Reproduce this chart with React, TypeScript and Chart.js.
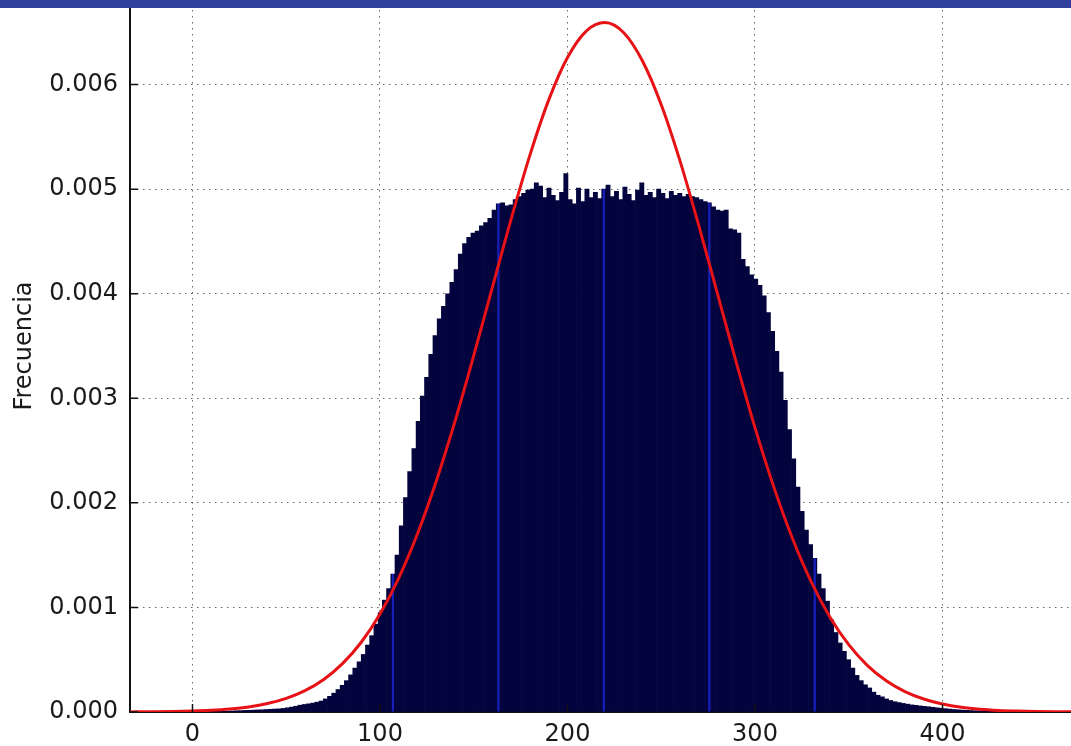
import React, { useEffect, useRef } from "react";
import { Chart, registerables } from "chart.js";

Chart.register(...registerables);

// Histogram bins: start and width of each bin (x units)
const BIN_START = 0;
const BIN_WIDTH = 2.25;

// Histogram heights (frequency density), one per bin
const histValues = [
  0, 0, 0, 0.000001, 0.000002, 0.000003, 0.000004, 0.000006, 0.000008, 0.00001,
  0.000012, 0.000013, 0.000015, 0.000016, 0.000018, 0.00002, 0.000021, 0.000024, 0.000026, 0.000028,
  0.00003, 0.000034, 0.00004, 0.000047, 0.000055, 0.000065, 0.000072, 0.000078, 0.000085, 0.000094,
  0.000105, 0.000125, 0.00015, 0.00018, 0.000215, 0.000255, 0.0003, 0.000355, 0.00042, 0.00048,
  0.00055, 0.00064, 0.00073, 0.00084, 0.00095, 0.00107, 0.00118, 0.00132, 0.0015, 0.00178,
  0.00205, 0.0023, 0.00252, 0.00278, 0.00302, 0.0032, 0.00342, 0.0036, 0.00376, 0.00388,
  0.004, 0.00411, 0.00423, 0.00438, 0.00448, 0.00454, 0.00458, 0.0046, 0.00465, 0.00468,
  0.00472, 0.0048, 0.00486, 0.00487, 0.00484, 0.00485, 0.0049, 0.00493, 0.00496, 0.00499,
  0.005, 0.00506, 0.00503, 0.00492, 0.00501, 0.00494, 0.00489, 0.00497, 0.00515, 0.0049,
  0.00486, 0.00501, 0.00488, 0.005, 0.00492, 0.00497, 0.00491, 0.005, 0.00504, 0.00493,
  0.00498, 0.0049, 0.00502, 0.00495, 0.00489, 0.00499, 0.00506, 0.00494, 0.00497, 0.00492,
  0.005, 0.00496, 0.00491, 0.00498, 0.00494, 0.00496, 0.00493, 0.00495, 0.00493, 0.00492,
  0.0049, 0.00488, 0.00487, 0.00483, 0.0048, 0.00479, 0.0048, 0.00462, 0.00461, 0.00458,
  0.00433, 0.00426, 0.00418, 0.00414, 0.00408, 0.00398, 0.00382, 0.00364, 0.00345, 0.00325,
  0.00298, 0.0027, 0.00242, 0.00215, 0.00192, 0.00174, 0.0016, 0.00147, 0.00132, 0.00118,
  0.00106, 0.00088, 0.00076, 0.00066, 0.00058, 0.0005, 0.00042, 0.00035, 0.0003, 0.00026,
  0.00023, 0.00019, 0.00016, 0.000145, 0.000125, 0.00011, 0.000098, 0.00009, 0.000082, 0.000075,
  0.000068, 0.000064, 0.000058, 0.000054, 0.00005, 0.000045, 0.00004, 0.000036, 0.000032, 0.000028,
  0.000024, 0.000021, 0.000018, 0.000016, 0.000014, 0.000012, 0.000011, 0.00001, 0.000009, 0.000008,
  0.000007, 0.000006, 0.000005, 0.000004, 0.000003, 0.000003, 0.000002, 0.000002, 0.000001, 0.000001,
];

// Bins that show as brighter blue streaks in the picture
const streakBins = [47, 72, 97, 122, 147];

// Red fitted curve
const curveX = [
  -40, -30, -20, -10, 0, 10, 20, 30, 40, 50, 60, 70, 80, 90, 100, 110, 120, 130, 140, 150,
  160, 170, 180, 190, 200, 210, 220, 230, 240, 250, 260, 270, 280, 290, 300, 310, 320, 330,
  340, 350, 360, 370, 380, 390, 400, 410, 420, 430, 440, 450, 460, 470, 480,
];
const curveY = [
  0.0000007, 0.0000013, 0.0000026, 0.0000049, 0.0000092, 0.0000164, 0.0000287, 0.0000488,
  0.0000809, 0.00013, 0.000204, 0.000311, 0.000462, 0.000667, 0.000937, 0.001281, 0.001704,
  0.002207, 0.00278, 0.003409, 0.004065, 0.004718, 0.005328, 0.005854, 0.006259, 0.006512,
  0.006593, 0.006495, 0.006225, 0.005807, 0.00527, 0.004653, 0.003999, 0.003344, 0.00272,
  0.002153, 0.001659, 0.001244, 0.000907, 0.000644, 0.000444, 0.000299, 0.000195, 0.000124,
  0.000077, 0.000046, 0.000027, 0.0000155, 0.0000086, 0.0000046, 0.0000024, 0.0000012, 0.0000006,
];

const xTickValues = [0, 100, 200, 300, 400, 500];
const yTickValues = [0, 0.001, 0.002, 0.003, 0.004, 0.005, 0.006, 0.007];
const yLabel = "Frecuencia";

const FONT = "'DejaVu Sans', sans-serif";
const TEXT = "#1a1a1a";

const innerTicks = {
  id: "innerTicks",
  afterDatasetsDraw(chart: any) {
    const { ctx, chartArea, scales } = chart;
    ctx.save();
    ctx.strokeStyle = "#111";
    ctx.lineWidth = 1.5;
    ctx.beginPath();
    for (const v of xTickValues) {
      const px = scales.x.getPixelForValue(v);
      if (px < chartArea.left || px > chartArea.right) continue;
      ctx.moveTo(px, chartArea.bottom);
      ctx.lineTo(px, chartArea.bottom - 8);
    }
    for (const v of yTickValues) {
      const py = scales.y.getPixelForValue(v);
      ctx.moveTo(chartArea.left, py);
      ctx.lineTo(chartArea.left + 8, py);
    }
    ctx.stroke();
    ctx.restore();
  },
};

export default function App() {
  const canvasRef = useRef<HTMLCanvasElement | null>(null);

  useEffect(() => {
    if (!canvasRef.current) return;
    const binCenter = (i: number) => BIN_START + BIN_WIDTH * (i + 0.5);
    const chart = new Chart(canvasRef.current, {
      type: "bar",
      data: {
        datasets: [
          {
            type: "line",
            label: "curve",
            data: curveX.map((x, i) => ({ x, y: curveY[i] })),
            borderColor: "rgb(230,18,22)",
            borderWidth: 3,
            pointRadius: 0,
            fill: false,
            cubicInterpolationMode: "monotone",
            order: 1,
          } as any,
          {
            type: "bar",
            label: "streaks",
            data: streakBins.map((i) => ({ x: binCenter(i), y: histValues[i] })),
            backgroundColor: "rgba(25,35,205,0.9)",
            borderWidth: 0,
            barPercentage: 0.5,
            categoryPercentage: 1,
            grouped: false,
            order: 2,
          } as any,
          {
            type: "bar",
            label: "hist",
            data: histValues.map((v, i) => ({ x: binCenter(i), y: v })),
            backgroundColor: "#03033e",
            borderWidth: 0,
            barPercentage: 1,
            categoryPercentage: 1,
            grouped: false,
            order: 3,
          } as any,
        ],
      },
      options: {
        animation: false,
        responsive: false,
        events: [],
        layout: { padding: 0, autoPadding: false },
        plugins: { legend: { display: false }, tooltip: { enabled: false } },
        scales: {
          x: {
            type: "linear",
            min: -33.33,
            max: 500,
            offset: false,
            afterBuildTicks: (s: any) => {
              s.ticks = xTickValues.map((v) => ({ value: v }));
            },
            afterFit: (s: any) => {
              s.height = 34;
              s.paddingLeft = 0;
              s.paddingRight = 0;
            },
            grid: { color: "rgba(0,0,0,0.6)", lineWidth: 1, drawTicks: false, offset: false },
            border: { display: true, color: "#111", width: 2, dash: [1.5, 4.5] },
            ticks: {
              color: TEXT,
              font: { family: FONT, size: 24 },
              padding: 8,
              maxRotation: 0,
              autoSkip: false,
              callback: (v: any) => String(v),
            },
          },
          y: {
            type: "linear",
            min: 0,
            max: 0.007,
            afterBuildTicks: (s: any) => {
              s.ticks = yTickValues.map((v) => ({ value: v }));
            },
            afterFit: (s: any) => {
              s.width = 130;
              s.paddingTop = 0;
              s.paddingBottom = 0;
            },
            grid: { color: "rgba(0,0,0,0.6)", lineWidth: 1, drawTicks: false },
            border: { display: true, color: "#111", width: 2, dash: [1.5, 4.5] },
            ticks: {
              color: TEXT,
              font: { family: FONT, size: 24 },
              padding: 12,
              autoSkip: false,
              callback: (v: any) => Number(v).toFixed(3),
            },
            title: {
              display: true,
              text: yLabel,
              color: TEXT,
              font: { family: FONT, size: 24 },
              padding: { top: 10, bottom: 0 },
            },
          },
        },
      } as any,
      plugins: [innerTicks],
    });
    return () => chart.destroy();
  }, []);

  return (
    <div
      style={{
        position: "fixed",
        left: 0,
        top: 0,
        width: 1071,
        height: 746,
        overflow: "hidden",
        background: "#ffffff",
      }}
    >
      <div style={{ position: "absolute", left: 0, top: -20, width: 1130, height: 766 }}>
        <canvas ref={canvasRef} width={1130} height={766} style={{ display: "block" }} />
      </div>
      <div
        style={{
          position: "absolute",
          left: 0,
          top: 0,
          width: 1071,
          height: 8,
          background: "#2f3f9b",
          zIndex: 2,
        }}
      />
    </div>
  );
}
